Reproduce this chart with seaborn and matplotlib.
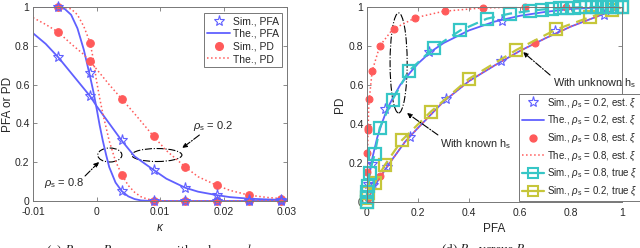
import numpy as np
import pandas as pd
import matplotlib
matplotlib.use("Agg")
import matplotlib.pyplot as plt
import seaborn as sns
from matplotlib.patches import Ellipse
from matplotlib.lines import Line2D

# ---------------- data: panel (c) ----------------
kappa_sim = [-0.006, -0.001, 0.004, 0.009, 0.014, 0.019, 0.024, 0.029]
pfa_sim_02 = [0.74, 0.54, 0.315, 0.16, 0.065, 0.03, 0.006, 0.004]
pd_sim_02 = [0.87, 0.72, 0.525, 0.333, 0.175, 0.08, 0.03, 0.01]
pfa_sim_08 = [1.0, 0.66, 0.052, 0.0, 0.0, 0.0, 0.0, 0.0]
pd_sim_08 = [1.0, 0.815, 0.135, 0.0, 0.0, 0.0, 0.0, 0.0]

kappa_th02 = [-0.01, -0.008, -0.006, -0.004, -0.002, -0.001, 0.0, 0.002, 0.004, 0.006,
              0.009, 0.011, 0.014, 0.016, 0.019, 0.021, 0.024, 0.027, 0.03]
pfa_th_02 = [0.865, 0.81, 0.74, 0.66, 0.58, 0.54, 0.49, 0.40, 0.31, 0.23,
             0.16, 0.115, 0.068, 0.048, 0.03, 0.02, 0.012, 0.008, 0.005]
pd_th_02 = [0.945, 0.91, 0.87, 0.81, 0.755, 0.72, 0.68, 0.60, 0.525, 0.45,
            0.333, 0.26, 0.175, 0.125, 0.08, 0.055, 0.03, 0.018, 0.01]

kappa_th08 = [-0.01, -0.007, -0.006, -0.005, -0.004, -0.003, -0.002, -0.001, -0.0005, 0.0,
              0.0005, 0.001, 0.0015, 0.002, 0.003, 0.004, 0.005, 0.006, 0.007, 0.008,
              0.009, 0.01, 0.012, 0.03]
pfa_th_08 = [1.0, 1.0, 0.998, 0.99, 0.96, 0.89, 0.78, 0.64, 0.565, 0.48,
             0.39, 0.31, 0.24, 0.175, 0.095, 0.05, 0.024, 0.01, 0.003, 0.001,
             0.0, 0.0, 0.0, 0.0]
pd_th_08 = [1.0, 1.0, 1.0, 0.998, 0.99, 0.96, 0.9, 0.815, 0.73, 0.62,
            0.53, 0.45, 0.38, 0.31, 0.205, 0.135, 0.08, 0.045, 0.022, 0.01,
            0.004, 0.001, 0.0, 0.0]

# ---------------- data: panel (d) ----------------
pfa_th_hi = [0.0, 0.0005, 0.001, 0.003, 0.007, 0.02, 0.05, 0.1, 0.19, 0.3, 0.45, 0.6, 0.8, 1.0]
pd_th_hi = [0.0, 0.08, 0.15, 0.3, 0.5, 0.67, 0.8, 0.885, 0.945, 0.978, 0.995, 0.999, 1.0, 1.0]
pfa_dot_hi = [0.0, 0.001, 0.003, 0.004, 0.009, 0.02, 0.05, 0.105, 0.19, 0.305, 0.455, 0.62, 0.78]
pd_dot_hi = [0.155, 0.25, 0.37, 0.38, 0.526, 0.67, 0.8, 0.885, 0.945, 0.978, 0.997, 1.0, 1.0]

pfa_th_mid = [0.0, 0.005, 0.01, 0.02, 0.04, 0.06, 0.08, 0.1, 0.13, 0.17, 0.2, 0.25, 0.3,
              0.4, 0.5, 0.6, 0.7, 0.8, 0.9, 1.0]
pd_th_mid = [0.0, 0.08, 0.14, 0.22, 0.33, 0.41, 0.48, 0.53, 0.6, 0.665, 0.71, 0.77, 0.815,
             0.88, 0.925, 0.955, 0.975, 0.99, 0.997, 1.0]
pfa_star_mid = [0.005, 0.02, 0.072, 0.242, 0.529]
pd_star_mid = [0.09, 0.197, 0.479, 0.769, 0.928]

pfa_th_lo = [0.0, 0.02, 0.05, 0.1, 0.15, 0.2, 0.3, 0.4, 0.5, 0.6, 0.7, 0.8, 0.9, 1.0]
pd_th_lo = [0.0, 0.06, 0.125, 0.22, 0.31, 0.38, 0.515, 0.62, 0.70, 0.775, 0.84, 0.9, 0.95, 1.0]
pfa_star_lo = [0.024, 0.078, 0.167, 0.31, 0.525, 0.739, 0.928]
pd_star_lo = [0.089, 0.18, 0.333, 0.526, 0.723, 0.877, 0.957]
pfa_dot_lo = [0.005, 0.05, 0.66]
pd_dot_lo = [0.02, 0.135, 0.815]

pfa_cyan = [0.0, 0.0, 0.0, 0.002, 0.01, 0.03, 0.05, 0.1, 0.163, 0.261, 0.366, 0.47, 0.56,
            0.64, 0.686, 0.725, 0.757, 0.784, 0.812, 0.835, 0.859, 0.882, 0.902, 0.922,
            0.941, 0.961, 0.98, 1.0]
pd_cyan = [0.0, 0.025, 0.05, 0.08, 0.15, 0.245, 0.38, 0.525, 0.67, 0.79, 0.88, 0.94, 0.966,
           0.98, 0.987, 0.991, 0.994, 0.996, 0.997, 0.998, 0.999, 1.0, 1.0, 1.0,
           1.0, 1.0, 1.0, 1.0]
pfa_olive = [0.0, 0.0, 0.004, 0.03, 0.07, 0.137, 0.25, 0.4, 0.586, 0.742, 0.876, 0.962, 1.0]
pd_olive = [0.0, 0.02, 0.046, 0.097, 0.19, 0.317, 0.463, 0.632, 0.78, 0.885, 0.949, 0.985, 1.0]

# ---------------- style ----------------
sns.set_style("ticks")
plt.rcParams["font.family"] = ["Liberation Sans", "DejaVu Sans"]
plt.rcParams["mathtext.fontset"] = "custom"
plt.rcParams["mathtext.rm"] = "Liberation Sans"
plt.rcParams["mathtext.it"] = "Liberation Sans:italic"

BLUE = "#6060ff"
RED = "#ff5a5a"
CYAN = "#36c6c6"
OLIVE = "#c6c63a"
SPINE = "#777777"

fig = plt.figure(figsize=(6.4, 2.48), dpi=100)
ax1 = fig.add_axes([33 / 640, 47 / 248, 254 / 640, 194 / 248])
ax2 = fig.add_axes([367 / 640, 46 / 248, 255 / 640, 195 / 248])


def line(ax, x, y, **kw):
    sns.lineplot(x=np.asarray(x, float), y=np.asarray(y, float), ax=ax,
                 estimator=None, sort=False, **kw)


# ---------------- panel (c) ----------------
line(ax1, kappa_th02, pfa_th_02, color=BLUE, lw=1.3)
line(ax1, kappa_th08, pfa_th_08, color=BLUE, lw=1.3)
line(ax1, kappa_th02, pd_th_02, color=RED, lw=1.1, linestyle=":")
line(ax1, kappa_th08, pd_th_08, color=RED, lw=1.1, linestyle=":")
line(ax1, kappa_sim, pd_sim_02, color=RED, linestyle="none", marker="o", ms=5.5,
     markeredgecolor=RED, clip_on=False)
line(ax1, kappa_sim, pd_sim_08, color=RED, linestyle="none", marker="o", ms=5.5,
     markeredgecolor=RED, clip_on=False)
line(ax1, kappa_sim, pfa_sim_02, color=BLUE, linestyle="none", marker="*", ms=8,
     markerfacecolor="none", markeredgecolor=BLUE, markeredgewidth=0.8, clip_on=False)
line(ax1, kappa_sim, pfa_sim_08, color=BLUE, linestyle="none", marker="*", ms=8,
     markerfacecolor="none", markeredgecolor=BLUE, markeredgewidth=0.8, clip_on=False)

ax1.set_xlim(-0.01, 0.03)
ax1.set_ylim(0, 1)
ax1.set_xticks([-0.01, 0, 0.01, 0.02, 0.03])
ax1.set_xticklabels(["-0.01", "0", "0.01", "0.02", "0.03"])
ax1.set_yticks([0, 0.2, 0.4, 0.6, 0.8, 1])
ax1.set_yticklabels(["0", "0.2", "0.4", "0.6", "0.8", "1"])
ax1.set_xlabel(r"$\kappa$", fontsize=8.5, labelpad=4)
ax1.set_ylabel("PFA or PD", fontsize=8.5, labelpad=1)

ax1.add_patch(Ellipse((0.0021, 0.237), 0.0038, 0.072, fill=False, ec="black",
                      lw=0.8, ls="-."))
ax1.add_patch(Ellipse((0.0095, 0.237), 0.0079, 0.067, fill=False, ec="black",
                      lw=0.8, ls="-."))
arrow_kw = dict(arrowstyle="-|>", color="black", lw=0.8, ls="-.", mutation_scale=7,
                shrinkA=0, shrinkB=0)
ax1.annotate("", xy=(0.0135, 0.273), xytext=(0.0162, 0.34), arrowprops=arrow_kw)
ax1.text(0.0152, 0.385, r"$\rho_\mathrm{s}$ = 0.2", fontsize=8, va="center")
ax1.annotate("", xy=(0.0004, 0.201), xytext=(-0.0018, 0.129), arrowprops=arrow_kw)
ax1.text(-0.0082, 0.095, r"$\rho_\mathrm{s}$ = 0.8", fontsize=8, va="center")

h1 = [
    Line2D([], [], color=BLUE, ls="none", marker="*", ms=8, mfc="none", mew=0.8),
    Line2D([], [], color=BLUE, lw=1.3),
    Line2D([], [], color=RED, ls="none", marker="o", ms=5.5),
    Line2D([], [], color=RED, lw=1.1, ls=":"),
]
leg1 = ax1.legend(h1, ["Sim., PFA", "The., PFA", "Sim., PD", "The., PD"],
                  loc="upper right", bbox_to_anchor=(0.982, 0.968), borderaxespad=0,
                  fontsize=7.5, frameon=True, fancybox=False, edgecolor=SPINE,
                  framealpha=1, handlelength=2.2, handletextpad=0.3,
                  labelspacing=0.25, borderpad=0.3)
leg1.get_frame().set_linewidth(0.7)

# ---------------- panel (d) ----------------
line(ax2, pfa_th_lo, pd_th_lo, color=BLUE, lw=1.3)
line(ax2, pfa_th_lo, pd_th_lo, color=RED, lw=1.1, linestyle=":")
line(ax2, pfa_th_mid, pd_th_mid, color=BLUE, lw=1.3)
line(ax2, pfa_th_hi, pd_th_hi, color=RED, lw=1.1, linestyle=":")
line(ax2, pfa_dot_hi, pd_dot_hi, color=RED, linestyle="none", marker="o", ms=5,
     markeredgecolor=RED, clip_on=False)
line(ax2, pfa_dot_lo, pd_dot_lo, color=RED, linestyle="none", marker="o", ms=5,
     markeredgecolor=RED, clip_on=False)
line(ax2, pfa_star_mid, pd_star_mid, color=BLUE, linestyle="none", marker="*", ms=8,
     markerfacecolor="none", markeredgecolor=BLUE, markeredgewidth=0.8, clip_on=False)
line(ax2, pfa_star_lo, pd_star_lo, color=BLUE, linestyle="none", marker="*", ms=8,
     markerfacecolor="none", markeredgecolor=BLUE, markeredgewidth=0.8, clip_on=False)
line(ax2, pfa_olive, pd_olive, color=OLIVE, lw=1.6, linestyle=(0, (5, 3)), marker="s",
     ms=9, markerfacecolor="none", markeredgecolor=OLIVE, markeredgewidth=1.6,
     clip_on=False)
line(ax2, pfa_cyan, pd_cyan, color=CYAN, lw=1.6, linestyle=(0, (5, 3)), marker="s",
     ms=9, markerfacecolor="none", markeredgecolor=CYAN, markeredgewidth=1.6,
     clip_on=False)

ax2.set_xlim(0, 1)
ax2.set_ylim(0, 1)
ax2.set_xticks([0, 0.2, 0.4, 0.6, 0.8, 1])
ax2.set_xticklabels(["0", "0.2", "0.4", "0.6", "0.8", "1"])
ax2.set_yticks([0, 0.2, 0.4, 0.6, 0.8, 1])
ax2.set_yticklabels(["0", "0.2", "0.4", "0.6", "0.8", "1"])
ax2.set_xlabel("PFA", fontsize=8.5, labelpad=4)
ax2.set_ylabel("PD", fontsize=8.5, labelpad=2)

ax2.add_patch(Ellipse((0.124, 0.713), 0.067, 0.513, fill=False, ec="black",
                      lw=0.8, ls="-."))
ax2.annotate("", xy=(0.157, 0.456), xytext=(0.278, 0.344), arrowprops=arrow_kw)
ax2.text(0.286, 0.297, r"With known h$_\mathrm{s}$", fontsize=7.8, va="center")
ax2.annotate("", xy=(0.612, 0.769), xytext=(0.718, 0.651), arrowprops=arrow_kw)
ax2.text(0.729, 0.61, r"With unknown h$_\mathrm{s}$", fontsize=7.8, va="center")

h2 = [
    Line2D([], [], color=BLUE, ls="none", marker="*", ms=8, mfc="none", mew=0.8),
    Line2D([], [], color=BLUE, lw=1.3),
    Line2D([], [], color=RED, ls="none", marker="o", ms=5),
    Line2D([], [], color=RED, lw=1.1, ls=":"),
    Line2D([], [], color=CYAN, lw=1.6, marker="s", ms=7, mfc="none", mew=1.5),
    Line2D([], [], color=OLIVE, lw=1.6, marker="s", ms=7, mfc="none", mew=1.5),
]
labels2 = [
    r"Sim., $\rho_\mathrm{s}$ = 0.2, est. $\xi$",
    r"The., $\rho_\mathrm{s}$ = 0.2, est. $\xi$",
    r"Sim., $\rho_\mathrm{s}$ = 0.8, est. $\xi$",
    r"The., $\rho_\mathrm{s}$ = 0.8, est. $\xi$",
    r"Sim., $\rho_\mathrm{s}$ = 0.8, true $\xi$",
    r"Sim., $\rho_\mathrm{s}$ = 0.2, true $\xi$",
]
leg2 = ax2.legend(h2, labels2, loc="lower right", bbox_to_anchor=(1.0, 47 / 248),
                  bbox_transform=fig.transFigure, borderaxespad=0,
                  fontsize=7, frameon=True, fancybox=False, edgecolor=SPINE,
                  framealpha=1, handlelength=2.2, handletextpad=0.3,
                  labelspacing=0.45, borderpad=0.3)
leg2.get_frame().set_linewidth(0.7)

for ax in (ax1, ax2):
    ax.tick_params(direction="in", top=True, right=True, length=3, width=0.6,
                   labelsize=7.5, colors="#262626", pad=2.5)
    ax.tick_params(axis="x", pad=4)
    for s in ax.spines.values():
        s.set_visible(True)
        s.set_color(SPINE)
        s.set_linewidth(0.7)
    ax.tick_params(axis="both", color=SPINE)

# captions (partly cut off at the bottom, as in the reference)
fig.text(152 / 640, 5 / 248,
         r"(c) $P_{\mathrm{FA}}$ or $P_{\mathrm{D}}$ versus $\kappa$ with unknown $h_{\mathrm{s}}$",
         ha="center", va="top", fontsize=9.5, family="Liberation Serif",
         math_fontfamily="stix")
fig.text(489 / 640, 5 / 248, r"(d) $P_{\mathrm{D}}$ versus $P_{\mathrm{FA}}$",
         ha="center", va="top", fontsize=9.5, family="Liberation Serif",
         math_fontfamily="stix")

fig.savefig("out.png", dpi=100)
